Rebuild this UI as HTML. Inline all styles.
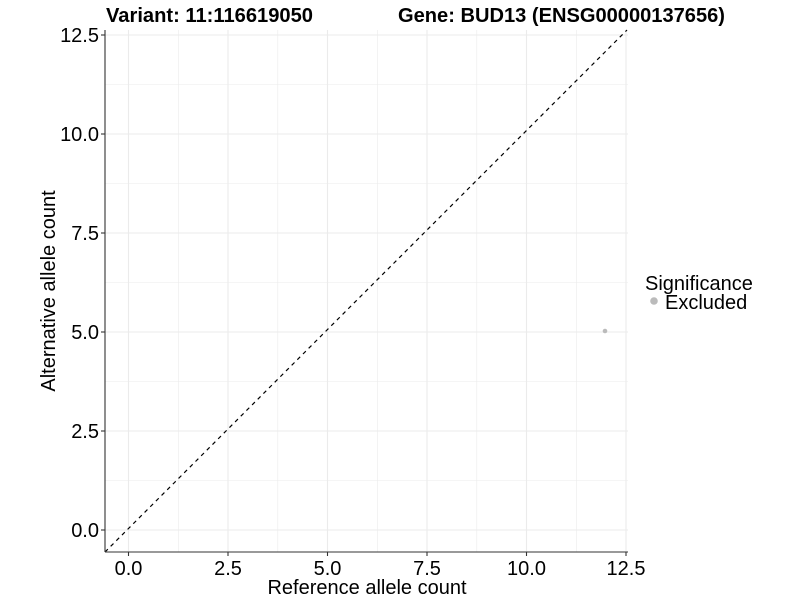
<!DOCTYPE html><html><head><style>body{margin:0;background:#fff}</style></head><body>
<svg width="800" height="600" xmlns="http://www.w3.org/2000/svg" font-family="Liberation Sans, Arial, sans-serif">
<rect width="800" height="600" fill="#fff"/>
<g stroke="#ebebeb" stroke-width="0.6">
<line x1="178.3" y1="30" x2="178.3" y2="552"/><line x1="277.8" y1="30" x2="277.8" y2="552"/><line x1="377.3" y1="30" x2="377.3" y2="552"/><line x1="476.8" y1="30" x2="476.8" y2="552"/><line x1="576.3" y1="30" x2="576.3" y2="552"/>
<line x1="105" y1="480.5" x2="628" y2="480.5"/><line x1="105" y1="381.5" x2="628" y2="381.5"/><line x1="105" y1="282.5" x2="628" y2="282.5"/><line x1="105" y1="183.5" x2="628" y2="183.5"/><line x1="105" y1="84.5" x2="628" y2="84.5"/>
</g>
<g stroke="#ebebeb" stroke-width="1.1">
<line x1="128.5" y1="30" x2="128.5" y2="552"/><line x1="228" y1="30" x2="228" y2="552"/><line x1="327.5" y1="30" x2="327.5" y2="552"/><line x1="427" y1="30" x2="427" y2="552"/><line x1="526.5" y1="30" x2="526.5" y2="552"/><line x1="626" y1="30" x2="626" y2="552"/>
<line x1="105" y1="530" x2="628" y2="530"/><line x1="105" y1="431" x2="628" y2="431"/><line x1="105" y1="332" x2="628" y2="332"/><line x1="105" y1="233" x2="628" y2="233"/><line x1="105" y1="134" x2="628" y2="134"/><line x1="105" y1="35" x2="628" y2="35"/>
</g>
<line x1="105" y1="552" x2="627" y2="30" stroke="#000" stroke-width="1.2" stroke-dasharray="4,4"/>
<circle cx="605" cy="331" r="2.3" fill="#bbb"/>
<g stroke="#333" stroke-width="1.1">
<line x1="105" y1="30" x2="105" y2="552"/><line x1="105" y1="552" x2="628" y2="552"/>
<line x1="101" y1="530" x2="105" y2="530"/><line x1="101" y1="431" x2="105" y2="431"/><line x1="101" y1="332" x2="105" y2="332"/><line x1="101" y1="233" x2="105" y2="233"/><line x1="101" y1="134" x2="105" y2="134"/><line x1="101" y1="35" x2="105" y2="35"/>
<line x1="128.5" y1="552" x2="128.5" y2="556"/><line x1="228" y1="552" x2="228" y2="556"/><line x1="327.5" y1="552" x2="327.5" y2="556"/><line x1="427" y1="552" x2="427" y2="556"/><line x1="526.5" y1="552" x2="526.5" y2="556"/><line x1="626" y1="552" x2="626" y2="556"/>
</g>
<g font-size="20" fill="#000" text-anchor="end">
<text x="99" y="537">0.0</text><text x="99" y="438">2.5</text><text x="99" y="339">5.0</text><text x="99" y="240">7.5</text><text x="99" y="141">10.0</text><text x="99" y="42">12.5</text>
</g>
<g font-size="20" fill="#000" text-anchor="middle">
<text x="128.5" y="575">0.0</text><text x="228" y="575">2.5</text><text x="327.5" y="575">5.0</text><text x="427" y="575">7.5</text><text x="526.5" y="575">10.0</text><text x="626" y="575">12.5</text>
<text x="367" y="594">Reference allele count</text>
<text transform="translate(55,291) rotate(-90)">Alternative allele count</text>
</g>
<text x="106" y="22" font-size="20" font-weight="bold" textLength="207" lengthAdjust="spacingAndGlyphs">Variant: 11:116619050</text>
<text x="398" y="22" font-size="20" font-weight="bold" textLength="327" lengthAdjust="spacingAndGlyphs">Gene: BUD13 (ENSG00000137656)</text>
<text x="645" y="290" font-size="20">Significance</text>
<circle cx="654" cy="301" r="3.8" fill="#bbb"/>
<text x="665" y="309" font-size="20">Excluded</text>
</svg>
</body></html>
